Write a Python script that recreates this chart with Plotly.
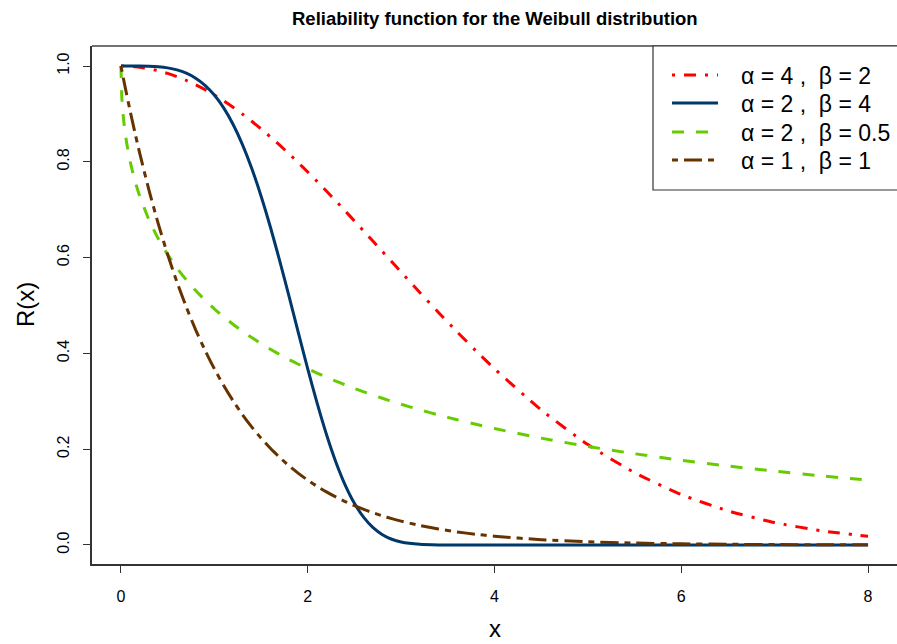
import plotly.graph_objects as go

# ---- data ----
x_vals = [0, 0.01, 0.03, 0.06, 0.1, 0.15, 0.2, 0.3, 0.4, 0.5, 0.6, 0.7, 0.8, 0.9,
          1.0, 1.1, 1.2, 1.3, 1.4, 1.5, 1.6, 1.7, 1.8, 1.9, 2.0, 2.1, 2.2, 2.3, 2.4,
          2.5, 2.6, 2.7, 2.8, 2.9, 3.0, 3.2, 3.4, 3.6, 3.8, 4.0, 4.5, 5.0, 5.5, 6.0,
          6.5, 7.0, 7.5, 8.0]

r_a4_b2 = [1.0, 1.0, 1.0, 0.9998, 0.9994, 0.9986, 0.9975, 0.9944, 0.99, 0.9845,
           0.9778, 0.9698, 0.9608, 0.9506, 0.9394, 0.9272, 0.9139, 0.8998, 0.8847,
           0.8688, 0.8521, 0.8347, 0.8167, 0.798, 0.7788, 0.7591, 0.739, 0.7185,
           0.6977, 0.6766, 0.6554, 0.634, 0.6126, 0.5912, 0.5698, 0.5273, 0.4855,
           0.4449, 0.4056, 0.3679, 0.2821, 0.2096, 0.151, 0.1054, 0.0713, 0.0468,
           0.0297, 0.0183]

r_a2_b4 = [1.0, 1.0, 1.0, 1.0, 1.0, 1.0, 0.9999, 0.9995, 0.9984, 0.9961, 0.9919,
           0.9851, 0.9747, 0.9598, 0.9394, 0.9125, 0.8784, 0.8365, 0.7866, 0.7288,
           0.6639, 0.5933, 0.5189, 0.4429, 0.3679, 0.2966, 0.2313, 0.174, 0.1257,
           0.087, 0.0575, 0.0361, 0.0215, 0.012, 0.0063, 0.0014, 0.0002, 0.0, 0.0,
           0.0, 0.0, 0.0, 0.0, 0.0, 0.0, 0.0, 0.0, 0.0]

r_a2_b05 = [1.0, 0.9317, 0.8847, 0.841, 0.7996, 0.7604, 0.7289, 0.6789, 0.6394,
            0.6065, 0.5783, 0.5535, 0.5313, 0.5113, 0.4931, 0.4764, 0.4609, 0.4465,
            0.4331, 0.4206, 0.4088, 0.3977, 0.3872, 0.3773, 0.3679, 0.3589, 0.3504,
            0.3422, 0.3344, 0.3269, 0.3197, 0.3129, 0.3063, 0.2999, 0.2938, 0.2823,
            0.2715, 0.2614, 0.252, 0.2431, 0.2231, 0.2057, 0.1905, 0.1769, 0.1648,
            0.154, 0.1442, 0.1353]

r_a1_b1 = [1.0, 0.99, 0.9704, 0.9418, 0.9048, 0.8607, 0.8187, 0.7408, 0.6703,
           0.6065, 0.5488, 0.4966, 0.4493, 0.4066, 0.3679, 0.3329, 0.3012, 0.2725,
           0.2466, 0.2231, 0.2019, 0.1827, 0.1653, 0.1496, 0.1353, 0.1225, 0.1108,
           0.1003, 0.0907, 0.0821, 0.0743, 0.0672, 0.0608, 0.055, 0.0498, 0.0408,
           0.0334, 0.0273, 0.0224, 0.0183, 0.0111, 0.0067, 0.0041, 0.0025, 0.0015,
           0.0009, 0.0006, 0.0003]

series_labels = ["α\u00a0=\u00a04\u00a0,\u00a0\u00a0β\u00a0=\u00a02",
                 "α\u00a0=\u00a02\u00a0,\u00a0\u00a0β\u00a0=\u00a04",
                 "α\u00a0=\u00a02\u00a0,\u00a0\u00a0β\u00a0=\u00a00.5",
                 "α\u00a0=\u00a01\u00a0,\u00a0\u00a0β\u00a0=\u00a01"]
series_values = [r_a4_b2, r_a2_b4, r_a2_b05, r_a1_b1]
series_colors = ["#FF0000", "#00386B", "#66CC00", "#663300"]
series_dash = ["3px,9px,12px,9px", "solid", "12px,12px", "6px,6px,18px,6px"]

x_ticks = [0, 2, 4, 6, 8]
y_ticks = [0.0, 0.2, 0.4, 0.6, 0.8, 1.0]
y_tick_text = ["0.0", "0.2", "0.4", "0.6", "0.8", "1.0"]

# ---- figure ----
W, H = 897, 644
ML, MR, MT, MB = 92, 0, 46, 80
PW, PH = W - ML - MR, H - MT - MB
FONT = "Liberation Sans, Arial, Helvetica, sans-serif"


def px_x(p):
    return (p - ML) / PW


def px_y(p):
    return 1 - (p - MT) / PH


fig = go.Figure()
for vals, col, dash in zip(series_values, series_colors, series_dash):
    fig.add_trace(go.Scatter(x=x_vals, y=vals, mode="lines",
                             line=dict(color=col, width=3, dash=dash, shape="spline",
                                       smoothing=0.6),
                             showlegend=False, hoverinfo="skip"))

shapes = []
# top line of the box (right side is outside the window)
shapes.append(dict(type="line", xref="paper", yref="paper", x0=0, x1=1.01, y0=1, y1=1,
                   line=dict(color="#444444", width=1.5)))

# legend box
lx0, ly0, ly1 = px_x(653), px_y(46), px_y(190)
shapes.append(dict(type="rect", xref="paper", yref="paper", x0=lx0, x1=1.02, y0=ly1, y1=ly0,
                   line=dict(color="#333333", width=1.2), fillcolor="white"))
annotations = []
rows = [75, 103, 132, 160]
for lab, col, dash, ry in zip(series_labels, series_colors, series_dash, rows):
    shapes.append(dict(type="line", xref="paper", yref="paper",
                       x0=px_x(672), x1=px_x(718), y0=px_y(ry), y1=px_y(ry),
                       line=dict(color=col, width=3, dash=dash)))
    annotations.append(dict(text=lab, xref="paper", yref="paper", x=px_x(739), y=px_y(ry + 1),
                            xanchor="left", yanchor="middle", showarrow=False,
                            font=dict(size=23, color="black", family=FONT)))

# title
annotations.append(dict(text="<b>Reliability function for the Weibull distribution</b>",
                        xref="paper", yref="paper", x=px_x(495), y=px_y(18),
                        xanchor="center", yanchor="middle", showarrow=False,
                        font=dict(size=18.5, color="black", family=FONT)))
# axis titles
annotations.append(dict(text="x", xref="paper", yref="paper", x=px_x(495), y=px_y(628),
                        xanchor="center", yanchor="middle", showarrow=False,
                        font=dict(size=24, color="black", family=FONT)))
annotations.append(dict(text="R(x)", xref="paper", yref="paper", x=px_x(25), y=px_y(305),
                        xanchor="center", yanchor="middle", showarrow=False, textangle=-90,
                        font=dict(size=24, color="black", family=FONT)))

fig.update_layout(
    width=W, height=H,
    margin=dict(l=ML, r=MR, t=MT, b=MB, pad=0),
    paper_bgcolor="white", plot_bgcolor="white",
    font=dict(family=FONT, color="black"),
    shapes=shapes, annotations=annotations,
    xaxis=dict(range=[-0.31, 8.31], tickvals=x_ticks, ticktext=[str(v) for v in x_ticks],
               showgrid=False, zeroline=False, showline=True, linecolor="#333333",
               linewidth=1.5, ticks="outside", ticklen=7, tickwidth=1, tickcolor="#333333",
               tickfont=dict(size=16, family=FONT), ticklabelstandoff=10),
    yaxis=dict(range=[-0.0397, 1.0418], tickvals=y_ticks, ticktext=y_tick_text,
               showgrid=False, zeroline=False, showline=True, linecolor="#333333",
               linewidth=1.5, ticks="outside", ticklen=7, tickwidth=1, tickcolor="#333333",
               tickangle=-90, tickfont=dict(size=16, family=FONT), ticklabelstandoff=8),
)

fig.write_html("out.html")
